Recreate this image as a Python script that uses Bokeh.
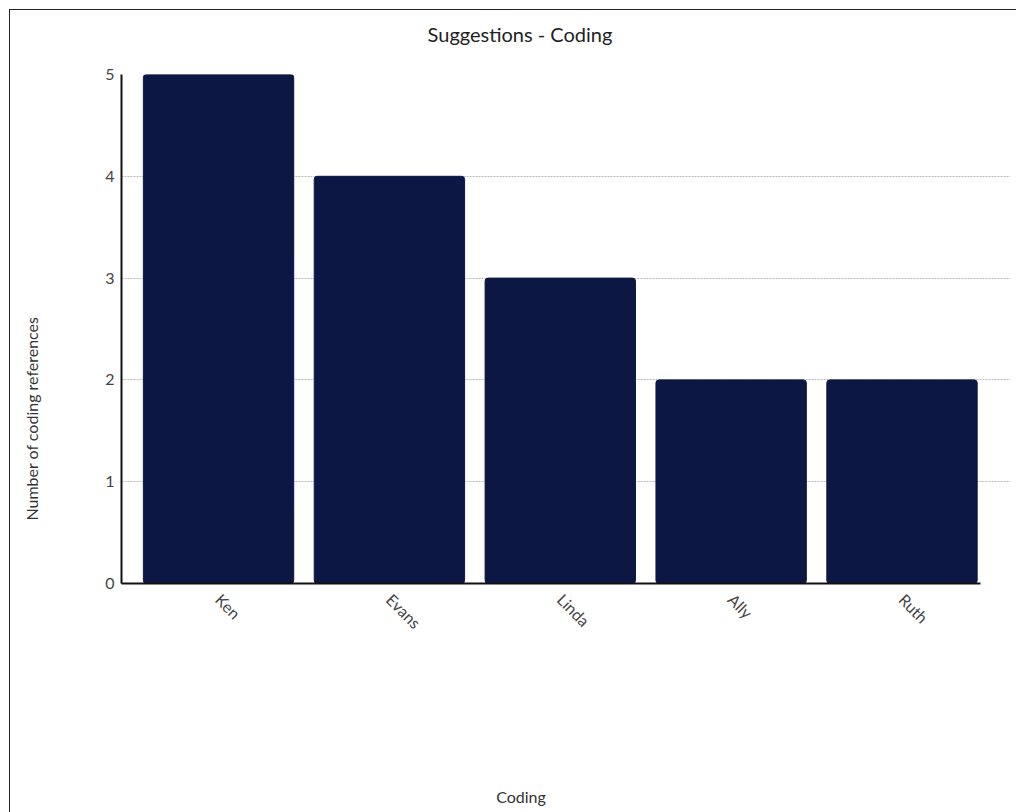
from bokeh.plotting import figure
from bokeh.layouts import column, row
from bokeh.models import Range1d, FixedTicker, Label
from bokeh.embed import file_html
from bokeh.resources import INLINE
import math

# Chart data
names = ["Ken", "Evans", "Linda", "Ally", "Ruth"]
counts = [5, 4, 3, 2, 2]
y_ticks = [0, 1, 2, 3, 4, 5]

title_text = "Suggestions - Coding"
x_title = "Coding"
y_title = "Number of coding references"

FONT = "Lato"
BAR = "#0c1744"

positions = list(range(len(names)))


def text_panel(width, height):
    """An empty, axis-free canvas used to hold a single line of text."""
    f = figure(width=width, height=height, output_backend="svg", toolbar_location=None,
               title=None, x_axis_location=None, y_axis_location=None, min_border=0)
    f.outline_line_color = None
    f.grid.grid_line_color = None
    f.background_fill_color = "white"
    f.border_fill_color = "white"
    return f


def canvas_label(fig, x, y, text, size, color, angle=0.0):
    fig.add_layout(Label(x=x, y=y, x_units="canvas", y_units="canvas", text=text,
                         angle=angle, text_font=FONT, text_font_size=size,
                         text_color=color, text_align="center", text_baseline="middle"))


# header with the chart title
header = text_panel(1006, 50)
canvas_label(header, 509.5, 23, title_text, "20px", "#222222")

# main bar chart
main = figure(
    width=946, height=692,
    x_range=Range1d(-0.568, 4.635), y_range=Range1d(0, 5),
    output_backend="svg", toolbar_location=None, title=None,
    min_border_left=51, min_border_right=6,
    min_border_top=14, min_border_bottom=169,
)
main.outline_line_color = None
main.background_fill_color = "white"
main.border_fill_color = "white"

main.vbar(x=positions, top=counts, width=0.88, color=BAR, border_radius=3)

main.xaxis.ticker = FixedTicker(ticks=positions)
main.xaxis.major_label_overrides = {i: n for i, n in zip(positions, names)}
main.xaxis.major_label_orientation = -math.pi / 4
main.xaxis.bounds = (-0.568, 4.46)
main.yaxis.ticker = FixedTicker(ticks=y_ticks)
for ax in (main.xaxis, main.yaxis):
    ax.axis_line_color = "#111111"
    ax.axis_line_width = 2
    ax.major_tick_line_color = None
    ax.major_tick_out = 0
    ax.major_tick_in = 0
    ax.minor_tick_line_color = None
    ax.major_label_text_font = FONT
    ax.major_label_text_font_size = "16px"
    ax.major_label_text_color = "#444444"
main.yaxis.major_label_standoff = 7
main.xaxis.major_label_standoff = 13

main.xgrid.grid_line_color = None
main.ygrid.ticker = FixedTicker(ticks=y_ticks)
main.ygrid.grid_line_color = "#bbbbbb"
main.ygrid.grid_line_dash = "2 1"
main.ygrid.grid_line_width = 1

# left strip with the y-axis title
side = text_panel(60, 692)
canvas_label(side, 21, 358, y_title, "16px", "#333333", angle=math.pi / 2)

# footer with the x-axis title
footer = text_panel(1006, 60)
canvas_label(footer, 510.5, 44, x_title, "16px", "#333333")

layout = column(header, row(side, main), footer)
layout.margin = (9, 0, 0, 9)
layout.styles = {"border-top": "1px solid #222", "border-left": "1px solid #222"}

open("out.html", "w").write(file_html(layout, INLINE))
